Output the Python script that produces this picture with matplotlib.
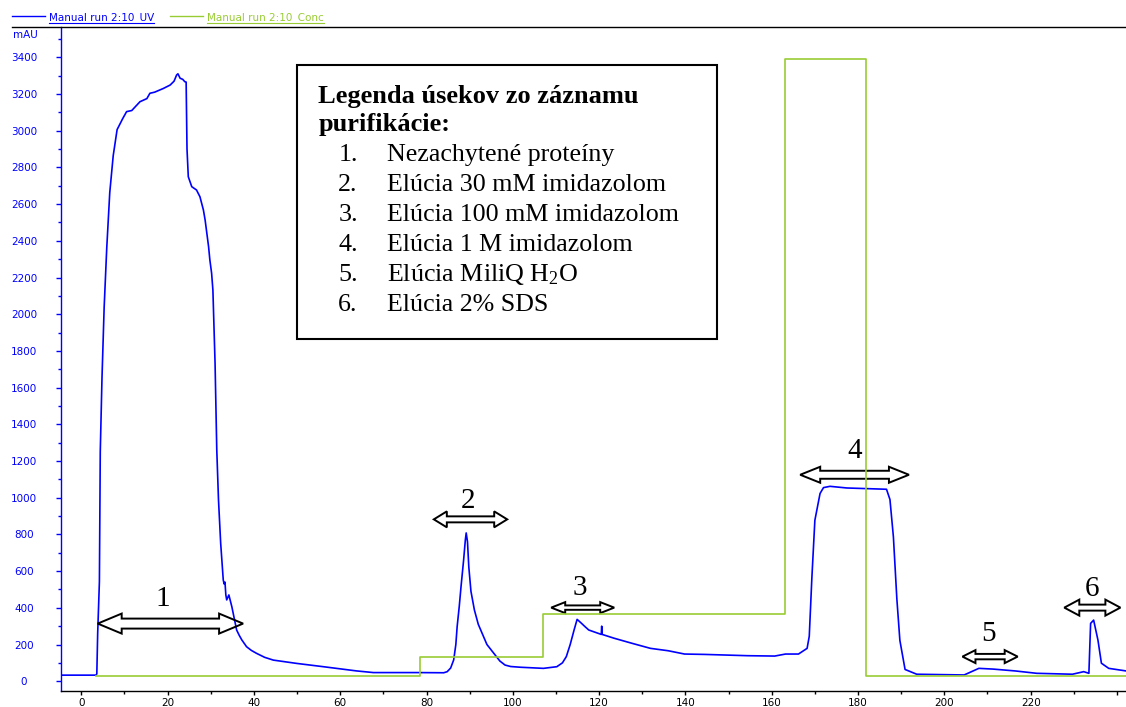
import matplotlib
matplotlib.use('Agg')
import matplotlib.pyplot as plt
from matplotlib.patches import Polygon, Rectangle
from matplotlib.lines import Line2D
from matplotlib.ticker import MultipleLocator

# ---------------- data ----------------
uv_time = [-4.7, 3.4, 3.6, 3.8, 4.2, 4.4, 4.8, 5.3, 5.9, 6.6, 7.4, 8.3, 9.6, 10.5,
           11.7, 13.6, 15.2, 15.9, 17.0, 18.2, 19.0, 20.6, 21.5, 22.1, 22.4, 22.9,
           23.5, 24.0, 24.3, 24.5, 24.8, 25.6, 26.7, 27.5, 27.9, 28.3, 28.7, 29.5,
           29.8, 30.2, 30.5, 31.0, 31.4, 31.8, 32.3, 32.9, 33.1, 33.3, 33.5, 33.7,
           34.2, 34.9, 36.0, 36.6, 37.2, 38.3, 39.4, 40.6, 42.5, 44.5, 49.9, 56.1,
           63.8, 67.7, 77.8,
           84.0, 84.8, 85.6, 86.3, 86.8, 87.1, 87.6, 88.0, 88.6, 89.0, 89.2, 89.5,
           89.8, 90.3, 91.1, 92.0, 92.9, 94.0, 95.6, 97.0, 98.2, 99.5, 101.8,
           107.1, 110.2, 111.5, 112.4, 113.3, 114.2, 114.9, 115.8, 116.7, 117.6,
           120.5, 120.6, 120.7, 123.5,
           127.7, 131.9, 136.0, 139.8, 144.4, 149.0, 154.4, 160.7, 163.2, 166.2,
           168.2, 168.7, 169.3, 170.0, 171.2, 172.0, 173.5, 177.4, 186.6, 187.4,
           188.2, 189.0, 189.7, 190.9, 193.6, 204.6, 208.0, 211.3, 216.4, 221.4,
           229.7, 232.3, 233.5, 233.9, 234.6, 235.6, 236.4, 238.1, 242.1]
uv_mau = [33, 33, 40, 261, 543, 1250, 1653, 2037, 2360, 2663, 2864, 3006, 3066, 3104,
          3110, 3158, 3175, 3204, 3210, 3222, 3230, 3249, 3270, 3304, 3310, 3286,
          3280, 3267, 3265, 2900, 2749, 2695, 2677, 2640, 2604, 2568, 2513, 2368,
          2295, 2224, 2132, 1734, 1260, 987, 753, 552, 530, 540, 470, 443,
          470, 405, 279, 250, 225, 188, 168, 152, 130, 115, 97, 79,
          56, 47, 47,
          46, 52, 72, 116, 200, 297, 410, 515, 660, 770, 808, 760,
          624, 490, 388, 310, 261, 200, 152, 110, 88, 80, 76,
          70, 79, 100, 134, 200, 279, 337, 318, 298, 279,
          255, 300, 255, 234,
          206, 179, 166, 148, 146, 143, 139, 137, 148, 148,
          179, 245, 561, 877, 1023, 1055, 1062, 1053, 1046, 990,
          786, 448, 222, 64, 38, 34, 70, 66, 56, 43,
          38, 52, 43, 315, 333, 224, 98, 70, 56]

conc_time = [3.3, 78.4, 107.1, 163.0, 181.9, 242.1]
conc_pct = [0, 3, 10, 100, 0, 0]

x_ticks = [0, 20, 40, 60, 80, 100, 120, 140, 160, 180, 200, 220, 240]
x_tick_labels = ['0', '20', '40', '60', '80', '100', '120', '140', '160', '180',
                 '200', '220', '']

section_labels = ['1', '2', '3', '4', '5', '6']
section_start = [3.8, 81.7, 108.9, 166.6, 204.2, 227.8]
section_end = [37.5, 98.7, 123.5, 191.8, 217.0, 240.8]
section_level = [314, 882, 401, 1125, 134, 401]
label_time = [18.8, 89.7, 115.5, 179.3, 210.2, 234.3]
label_level = [408, 945, 472, 1219, 218, 463]

legend_title = ['Legenda úsekov zo záznamu', 'purifikácie:']
legend_items = ['Nezachytené proteíny', 'Elúcia 30 mM imidazolom',
                'Elúcia 100 mM imidazolom', 'Elúcia 1 M imidazolom',
                r'Elúcia MiliQ H$_\mathrm{2}$O', 'Elúcia 2% SDS']

series_names = ['Manual run 2:10_UV', 'Manual run 2:10_Conc']

# ---------------- style ----------------
W, H = 1126, 707
UV_C = '#0000ff'
CONC_C = '#99cc33'
SERIF = ['Liberation Serif', 'DejaVu Serif']
SANS = ['DejaVu Sans']
plt.rcParams['mathtext.fontset'] = 'custom'
plt.rcParams['mathtext.rm'] = 'Liberation Serif'
plt.rcParams['mathtext.it'] = 'Liberation Serif:italic'

# arrow shapes in pixels: head length, head half-height, shaft half-height
arrow_head_len = [24, 13, 14, 20, 13, 15]
arrow_head_half = [10, 8, 5.5, 8, 6.5, 8]
arrow_shaft_half = [5, 3, 2.2, 4, 2.7, 3]


def fx(px):
    return px / W


def fy(py):
    return 1 - py / H


fig = plt.figure(figsize=(W / 100, H / 100), dpi=100)
ax = fig.add_axes([fx(61), fy(691), fx(1126) - fx(61), fy(26.7) - fy(691)])
ax.set_xlim(-4.7, 242.1)
ax.set_ylim(-53.4, 3566.8)

ax.plot(uv_time, uv_mau, color=UV_C, lw=1.2)

# secondary (hidden) concentration axis, aligned: 0 % -> 30 mAU, 100 % -> 3390 mAU
ax2 = ax.twinx()
lo, hi = ax.get_ylim()
ax2.set_ylim((lo - 30) / 33.6, (hi - 30) / 33.6)
ax2.set_axis_off()
ax2.step(conc_time, conc_pct, where='post', color=CONC_C, lw=1.2)

# axes styling
for s in ['top', 'right']:
    ax.spines[s].set_visible(False)
ax.spines['left'].set_color(UV_C)
ax.spines['left'].set_linewidth(1.0)
ax.spines['bottom'].set_color('black')
ax.spines['bottom'].set_linewidth(1.0)

ax.yaxis.set_major_locator(MultipleLocator(200))
ax.yaxis.set_minor_locator(MultipleLocator(100))
ax.set_xticks(x_ticks)
ax.set_xticklabels(x_tick_labels)
ax.xaxis.set_minor_locator(MultipleLocator(10))
ax.tick_params(axis='y', which='major', colors=UV_C, length=3.7, width=1,
               labelsize=7.5, pad=23)
ax.tick_params(axis='y', which='minor', colors=UV_C, length=2.2, width=1)
ax.tick_params(axis='x', which='major', colors='black', length=3, width=1,
               labelsize=7.5, pad=2)
ax.tick_params(axis='x', which='minor', colors='black', length=2, width=1)
for lab in ax.get_yticklabels():
    lab.set_horizontalalignment('center')
    lab.set_family(SANS)
for lab in ax.get_xticklabels():
    lab.set_family(SANS)

# data-per-pixel scales
bbox_w = (fx(1126) - fx(61)) * W
bbox_h = (fy(26.7) - fy(691)) * H
dx = (242.1 + 4.7) / bbox_w
dy = (3566.8 + 53.4) / bbox_h

# section arrows and numbers
for i in range(len(section_labels)):
    t0, t1, v = section_start[i], section_end[i], section_level[i]
    hl = arrow_head_len[i] * dx
    hh = arrow_head_half[i] * dy
    sh = arrow_shaft_half[i] * dy
    verts = [(t0, v), (t0 + hl, v + hh), (t0 + hl, v + sh), (t1 - hl, v + sh),
             (t1 - hl, v + hh), (t1, v), (t1 - hl, v - hh), (t1 - hl, v - sh),
             (t0 + hl, v - sh), (t0 + hl, v - hh)]
    poly = Polygon(verts, closed=True, facecolor='none', edgecolor='black',
                   lw=1.4, transform=ax.transData, joinstyle='miter')
    ax2.add_patch(poly)
    ax2.text(label_time[i], label_level[i], section_labels[i],
             transform=ax.transData, ha='center', va='baseline',
             fontsize=21, family=SERIF, color='black')

# y unit label
fig.text(fx(25.5), fy(35), 'mAU', color=UV_C, fontsize=7.5, family=SANS,
         ha='center', va='center')

# top rule and series legend
fig.add_artist(Line2D([fx(12), 1.0], [fy(26.7), fy(26.7)], color='black', lw=1.0))
fig.add_artist(Line2D([fx(12), fx(45)], [fy(15.7), fy(15.7)], color=UV_C, lw=1.0))
fig.add_artist(Line2D([fx(170), fx(203)], [fy(15.7), fy(15.7)], color=CONC_C, lw=1.0))
t_uv = fig.text(fx(49), fy(20.5), series_names[0], color=UV_C, fontsize=7.5,
                family=SANS, ha='left', va='baseline')
t_cc = fig.text(fx(207), fy(20.5), series_names[1], color=CONC_C, fontsize=7.5,
                family=SANS, ha='left', va='baseline')
fig.canvas.draw()
r = fig.canvas.get_renderer()
for t, c in [(t_uv, UV_C), (t_cc, CONC_C)]:
    bb = t.get_window_extent(r)
    fig.add_artist(Line2D([bb.x0 / W, bb.x1 / W], [fy(22.7), fy(22.7)], color=c, lw=0.8))

# legend box
fig.add_artist(Rectangle((fx(297.3), fy(339)), fx(717.3) - fx(297.3), fy(65) - fy(339),
                         transform=fig.transFigure, facecolor='white',
                         edgecolor='black', lw=1.5, zorder=5))
title_base = [103.3, 131]
for txt, yb in zip(legend_title, title_base):
    fig.text(fx(318.3), fy(yb), txt, fontsize=19, fontweight='bold', family=SERIF,
             ha='left', va='baseline', zorder=6)
for i, txt in enumerate(legend_items):
    yb = 161 + 30 * i
    fig.text(fx(338.3), fy(yb), f'{i + 1}.', fontsize=18.7, family=SERIF,
             ha='left', va='baseline', zorder=6)
    fig.text(fx(386.7), fy(yb), txt, fontsize=18.7, family=SERIF,
             ha='left', va='baseline', zorder=6)

fig.savefig('out.png', dpi=100)
